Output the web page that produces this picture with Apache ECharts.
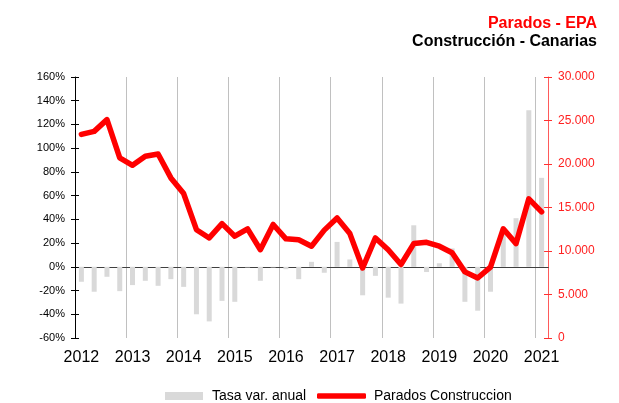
<!DOCTYPE html>
<html>
<head>
<meta charset="utf-8">
<script src="https://cdn.jsdelivr.net/npm/echarts@6/dist/echarts.min.js"></script>
<style>
  html, body { margin: 0; padding: 0; background: #fff; }
  #chart { width: 619px; height: 403px; }
</style>
</head>
<body>
<div id="chart"></div>
<script>
// quarterly categories 2012T1 .. 2021T1
const years = ['2012', '2013', '2014', '2015', '2016', '2017', '2018', '2019', '2020', '2021']
const quarters = []
years.forEach(y => {
  for (let q = 1; q <= 4; q++) {
    if (y === '2021' && q > 1) break
    quarters.push(y + 'T' + q)
  }
})

// Tasa var. anual (%), eje izquierdo
const tasaVar = [
  -12.6, -21, -8.4, -20.5, -15.4, -11.8, -16, -10.4,
  -16.9, -40, -46, -28.7, -29.5, -0.5, -11.8, -0.5,
  -2, -10.4, 4.2, -5, 21, 6.2, -24, -7.6,
  -26, -31, 35, -4.4, 3, 15.5, -29.5, -37,
  -21, 30, 41, 132, 75
]

// Parados construccion, eje derecho
const parados = [
  23400, 23750, 25100, 20700, 19850, 20900, 21150, 18400,
  16600, 12450, 11500, 13150, 11700, 12550, 10150, 13050,
  11400, 11300, 10550, 12400, 13800, 12000, 8050, 11500,
  10150, 8450, 10850, 11000, 10550, 9800, 7600, 6900,
  8150, 12550, 10850, 16000, 14500
]

const leftTicks = { min: -60, max: 160, step: 20 }
const rightTicks = { min: 0, max: 30000, step: 5000 }

const font = "'Liberation Sans', Arial, sans-serif"
const isYearStart = (idx) => idx % 4 === 0
const fmtMiles = (v) => String(v).replace(/\B(?=(\d{3})+(?!\d))/g, '.')

const chart = echarts.init(document.getElementById('chart'))

chart.setOption({
  animation: false,
  textStyle: { fontFamily: font },
  title: [
    {
      text: 'Parados - EPA', right: 22, top: 16, padding: 0,
      textStyle: { color: '#ff0000', fontSize: 16, fontWeight: 'bold', fontFamily: font }
    },
    {
      text: 'Construcción - Canarias', right: 22, top: 34, padding: 0,
      textStyle: { color: '#000', fontSize: 16, fontWeight: 'bold', fontFamily: font }
    }
  ],
  legend: [
    {
      data: [{ name: 'Tasa var. anual', icon: 'rect' }],
      left: 165, top: 389, padding: 0,
      itemWidth: 38, itemHeight: 8,
      textStyle: { fontSize: 14, color: '#000', padding: [0, 0, 0, 4] }
    },
    {
      data: [{ name: 'Parados Construccion', icon: 'roundRect' }],
      left: 317, top: 389, padding: 0,
      itemWidth: 49, itemHeight: 5.5,
      textStyle: { fontSize: 14, color: '#000', padding: [0, 0, 0, 3] }
    }
  ],
  grid: { left: 75, right: 71, top: 77, bottom: 65, containLabel: false, outerBoundsMode: 'none' },
  xAxis: [
    {
      type: 'category', data: quarters, position: 'bottom',
      axisLine: { onZero: true, onZeroAxisIndex: 0, lineStyle: { color: '#404040', width: 1 } },
      axisTick: { interval: isYearStart, length: 4, lineStyle: { color: '#404040' } },
      axisLabel: { show: false },
      splitLine: { show: true, interval: isYearStart, lineStyle: { color: '#c0c0c0', width: 1 } }
    },
    {
      type: 'category', data: quarters, position: 'top',
      axisLine: { onZero: true, onZeroAxisIndex: 0, lineStyle: { color: '#404040', width: 1 } },
      axisTick: { interval: isYearStart, length: 4, lineStyle: { color: '#404040' } },
      axisLabel: { show: false },
      splitLine: { show: false }
    },
    {
      type: 'category', data: quarters, position: 'bottom',
      axisLine: { show: false, onZero: false },
      axisTick: { show: false },
      axisLabel: {
        interval: 3, margin: 12, fontSize: 16, color: '#000',
        formatter: (v) => v.slice(0, 4)
      },
      splitLine: { show: false }
    }
  ],
  yAxis: [
    {
      type: 'value', position: 'left',
      min: leftTicks.min, max: leftTicks.max, interval: leftTicks.step,
      axisLine: { show: true, lineStyle: { color: '#000' } },
      axisTick: { show: true, length: 4, lineStyle: { color: '#000' } },
      axisLabel: { formatter: '{value}%', fontSize: 11, color: '#000', margin: 10 },
      splitLine: { show: false }
    },
    {
      type: 'value', position: 'right',
      min: rightTicks.min, max: rightTicks.max, interval: rightTicks.step,
      axisLine: { show: true, lineStyle: { color: '#ff5a5a' } },
      axisTick: { show: true, length: 4, lineStyle: { color: '#ff3030' } },
      axisLabel: { formatter: fmtMiles, fontSize: 12, color: '#ff2020', margin: 10 },
      splitLine: { show: false }
    },
    {
      type: 'value', position: 'left',
      min: leftTicks.min, max: leftTicks.max, interval: leftTicks.step,
      axisLine: { show: false },
      axisTick: { show: true, inside: true, length: 4, lineStyle: { color: '#000' } },
      axisLabel: { show: false },
      splitLine: { show: false }
    },
    {
      type: 'value', position: 'right',
      min: rightTicks.min, max: rightTicks.max, interval: rightTicks.step,
      axisLine: { show: false },
      axisTick: { show: true, inside: true, length: 4, lineStyle: { color: '#ff3030' } },
      axisLabel: { show: false },
      splitLine: { show: false }
    }
  ],
  series: [
    {
      name: 'Tasa var. anual',
      type: 'bar',
      xAxisIndex: 0, yAxisIndex: 0,
      data: tasaVar,
      barWidth: 5,
      itemStyle: { color: '#d9d9d9' },
      z: 1
    },
    {
      name: 'Parados Construccion',
      type: 'line',
      xAxisIndex: 0, yAxisIndex: 1,
      data: parados,
      symbol: 'none',
      itemStyle: { color: '#ff0000' },
      lineStyle: { color: '#ff0000', width: 5.5, cap: 'round', join: 'round' },
      z: 3
    }
  ]
})
</script>
</body>
</html>
